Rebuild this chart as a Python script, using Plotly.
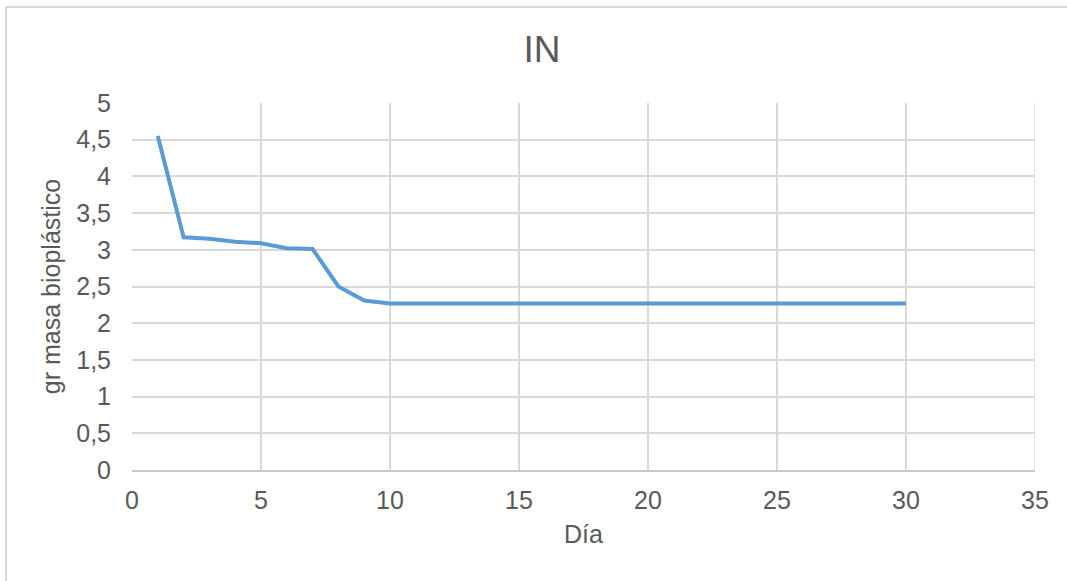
import plotly.graph_objects as go

# Remaining bioplastic mass per day
dias = list(range(1, 31))
masa = [4.55, 3.17, 3.15, 3.11, 3.09, 3.02, 3.01, 2.50, 2.31, 2.27,
        2.27, 2.27, 2.27, 2.27, 2.27, 2.27, 2.27, 2.27, 2.27, 2.27,
        2.27, 2.27, 2.27, 2.27, 2.27, 2.27, 2.27, 2.27, 2.27, 2.27]

x_ticks = [0, 5, 10, 15, 20, 25, 30, 35]
y_ticks = [0, 0.5, 1, 1.5, 2, 2.5, 3, 3.5, 4, 4.5, 5]
y_tick_text = ["0", "0,5", "1", "1,5", "2", "2,5", "3", "3,5", "4", "4,5", "5"]

FONT = "Liberation Sans, Arial, sans-serif"
GREY = "#595959"
GRID = "#d9d9d9"

fig = go.Figure(
    go.Scatter(
        x=dias, y=masa, mode="lines",
        line=dict(color="#5b9bd5", width=4),
        showlegend=False,
    )
)

fig.update_layout(
    width=1067, height=581,
    margin=dict(l=132, r=32, t=103, b=111),
    paper_bgcolor="white", plot_bgcolor="white",
    font=dict(family=FONT, color=GREY, size=25),
    title=dict(
        text="IN", font=dict(size=37, color=GREY, family=FONT),
        x=542 / 1067, xref="container", xanchor="center",
        y=1 - 49 / 581, yref="container", yanchor="middle",
    ),
    xaxis=dict(
        range=[0, 35], tickvals=x_ticks, ticktext=[str(v) for v in x_ticks],
        showgrid=True, gridcolor=GRID, gridwidth=1.5,
        showline=True, linecolor="#c8c8c8", linewidth=1.5,
        zeroline=False, ticks="", ticklabelstandoff=7,
        tickfont=dict(size=25, color=GREY),
        title=dict(text="Día", font=dict(size=25, color=GREY), standoff=13),
    ),
    yaxis=dict(
        range=[0, 5], tickvals=y_ticks, ticktext=y_tick_text,
        showgrid=True, gridcolor=GRID, gridwidth=1.5,
        showline=False, zeroline=False, ticks="", ticklabelstandoff=20,
        tickfont=dict(size=25, color=GREY),
        title=dict(text="gr masa bioplástico", font=dict(size=25, color=GREY), standoff=8),
    ),
    shapes=[
        # right edge line of the plot area
        dict(type="line", xref="x", yref="y", x0=35, x1=35, y0=0, y1=5,
             line=dict(color=GRID, width=1.5)),
        # chart frame (left and top edges fall inside the page)
        dict(type="rect", xref="paper", yref="paper",
             x0=-126 / 903, x1=(1080 - 132) / 903,
             y0=-130 / 367, y1=1 + 96 / 367,
             line=dict(color=GRID, width=2), fillcolor="rgba(0,0,0,0)",
             layer="below"),
    ],
)

fig.write_html("out.html")
